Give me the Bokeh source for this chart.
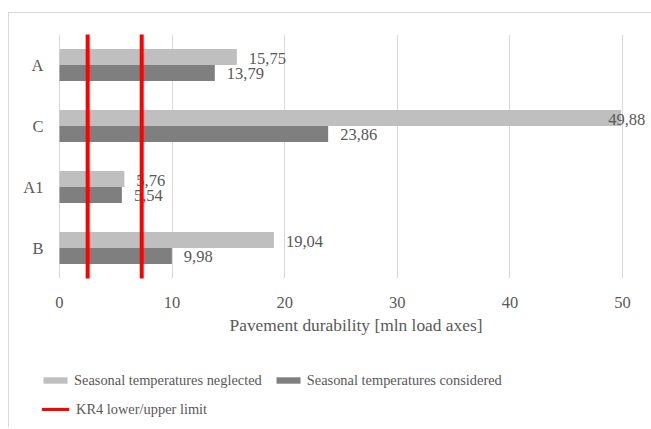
from bokeh.plotting import figure
from bokeh.layouts import column
from bokeh.models import Range1d, FixedTicker, Legend, LegendItem, ColumnDataSource, Title
from bokeh.embed import file_html
from bokeh.resources import INLINE
from bokeh.core.properties import value

# ---- data ----
categories = ["A", "C", "A1", "B"]          # top to bottom
neglected = [15.75, 49.88, 5.76, 19.04]     # Seasonal temperatures neglected
considered = [13.79, 23.86, 5.54, 9.98]     # Seasonal temperatures considered
kr4_limits = [2.5, 7.3]                     # KR4 lower / upper limit
x_ticks = [0, 10, 20, 30, 40, 50]
x_title = "Pavement durability [mln load axes]"
series_names = ["Seasonal temperatures neglected", "Seasonal temperatures considered",
                "KR4 lower/upper limit"]

FONT = "Liberation Serif"
TXT = "#595959"
LIGHT = "#BFBFBF"
DARK = "#7F7F7F"
RED = "#FF0000"

n = len(categories)
ypos = [n - 1 - i for i in range(n)]
bar_h = 0.262
off = bar_h / 2


def fmt(v):
    return f"{v:.2f}".replace(".", ",")


def label_offsets(vals):
    return [12 if v < 45 else -13 for v in vals]


# frame starts 21 px left of the zero line (room for the legend swatches below)
PX_PER_UNIT = 11.26
x_lo = -21 / PX_PER_UNIT
x_hi = 52.31

p = figure(width=642, height=342, output_backend="svg", toolbar_location=None,
           x_range=Range1d(x_lo, x_hi), y_range=Range1d(-0.5, n - 0.5),
           min_border_left=29, min_border_right=3, min_border_top=21,
           min_border_bottom=77)
p.outline_line_color = None

src_n = ColumnDataSource(dict(y=[y + off for y in ypos], v=neglected,
                              lbl=[fmt(v) for v in neglected], xo=label_offsets(neglected)))
src_c = ColumnDataSource(dict(y=[y - off for y in ypos], v=considered,
                              lbl=[fmt(v) for v in considered], xo=label_offsets(considered)))

p.hbar(y="y", left=0, right="v", height=bar_h, source=src_n,
       fill_color=LIGHT, line_color=None)
p.hbar(y="y", left=0, right="v", height=bar_h, source=src_c,
       fill_color=DARK, line_color=None)

for src in (src_n, src_c):
    p.text(x="v", y="y", text="lbl", source=src, x_offset="xo", y_offset=1,
           text_font=value(FONT), text_font_size="16.5px", text_color=TXT,
           text_align="left", text_baseline="middle")

p.segment(x0=kr4_limits, x1=kr4_limits, y0=[-0.6] * len(kr4_limits),
          y1=[n - 0.4] * len(kr4_limits), line_color=RED, line_width=4)

# axes
p.xaxis.ticker = FixedTicker(ticks=x_ticks)
p.yaxis.ticker = FixedTicker(ticks=ypos)
p.yaxis.major_label_overrides = {y: c for y, c in zip(ypos, categories)}
for ax in (p.xaxis[0], p.yaxis[0]):
    ax.axis_line_color = None
    ax.major_tick_line_color = None
    ax.minor_tick_line_color = None
    ax.major_tick_out = 0
    ax.major_tick_in = 0
    ax.major_label_text_font = FONT
    ax.major_label_text_font_size = "16.5px"
    ax.major_label_text_color = TXT
p.xaxis.major_label_standoff = 18
p.yaxis.major_label_standoff = -5

# x-axis title, centred under the 0..50 scale (not under the widened frame)
p.add_layout(Title(text=x_title, align="left", offset=191, standoff=5,
                   text_font=FONT, text_font_size="17.4px", text_font_style="normal",
                   text_color=TXT), "below")

p.xgrid.ticker = FixedTicker(ticks=x_ticks)
p.xgrid.grid_line_color = "#D9D9D9"
p.xgrid.grid_line_width = 1
p.ygrid.visible = False

# ---- legend strip ----
lg = figure(width=642, height=72, output_backend="svg", toolbar_location=None,
            x_axis_type=None, y_axis_type=None, x_range=Range1d(0, 1), y_range=Range1d(0, 1),
            min_border_left=29, min_border_right=3, min_border_top=0, min_border_bottom=0)
lg.outline_line_color = None
nan = float("nan")
empty = ColumnDataSource(dict(x=[nan], y=[nan]))
k_n = lg.hbar(y="y", left=0, right="x", height=0.1, source=empty,
              fill_color=LIGHT, line_color=None)
k_c = lg.hbar(y="y", left=0, right="x", height=0.1, source=empty,
              fill_color=DARK, line_color=None)
k_r = lg.hbar(y="y", left=0, right="x", height=0.1, source=empty,
              fill_color=RED, line_color=None)


def make_legend(items, loc, gw, gh):
    return Legend(items=items, location=loc, orientation="horizontal",
                  border_line_color=None, background_fill_alpha=0, padding=0, margin=0,
                  spacing=11, label_standoff=4, glyph_width=gw, glyph_height=gh,
                  label_height=20, label_text_font=FONT, label_text_font_size="14.4px",
                  label_text_color=TXT)


leg1 = make_legend([LegendItem(label=series_names[0], renderers=[k_n], index=0),
                    LegendItem(label=series_names[1], renderers=[k_c], index=0)],
                   (2, 37), 30, 8)
leg2 = make_legend([LegendItem(label=series_names[2], renderers=[k_r], index=0)],
                   (0, 8), 34, 4)
lg.add_layout(leg1, "center")
lg.add_layout(leg2, "center")

page = column(p, lg, spacing=0,
              styles={"border-top": "1px solid #D9D9D9", "border-left": "1px solid #D9D9D9",
                      "margin-top": "12px", "margin-left": "8px"})

open("out.html", "w").write(file_html(page, INLINE))
